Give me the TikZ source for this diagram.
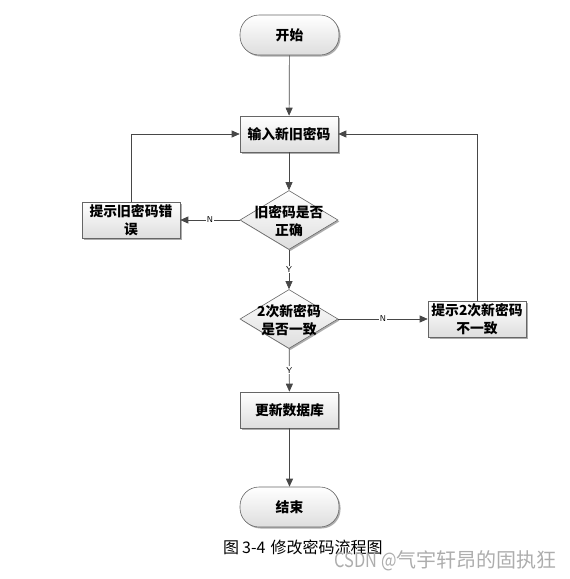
\documentclass[tikz,border=0pt]{standalone}
\usepackage{fontspec}
\usepackage{graphicx}
\newfontfamily\cjk{Noto Sans CJK SC}
\usetikzlibrary{shapes.geometric,shadows,arrows.meta}
\begin{document}
\begin{tikzpicture}[x=1pt,y=-1pt,
  base/.style={draw=black!60, line width=0.6pt, top color=white, bottom color=black!13,
    drop shadow={shadow xshift=1.5pt,shadow yshift=-1.5pt,fill=black!40,opacity=0.8},
    inner sep=0pt, align=center, font=\cjk\bfseries\fontsize{13.8}{18}\selectfont},
  box/.style={base, rectangle, minimum width=98pt, minimum height=36pt},
  term/.style={base, rectangle, rounded corners=19pt, minimum width=99pt, minimum height=40pt},
  dia/.style={base, diamond, aspect=1.63, minimum width=98pt, minimum height=59pt},
  txt/.style={inner sep=0pt, align=center, font=\cjk\bfseries\fontsize{13.8}{18}\selectfont},
  arr/.style={draw=black!72, line width=0.7pt, -{Triangle[length=8pt,width=7pt]}},
  lab/.style={font=\sffamily\fontsize{8.5}{9}\selectfont, fill=white, inner sep=1pt}
]
\useasboundingbox (0,0) rectangle (570,579);

\node[term] (start) at (289.5,35) {开始};
\node[box] (inp) at (289,134) {输入新旧密码};
\node[dia] (d1) at (289,220) {};
\node[txt] (d1t) at (289,221) {旧密码是否\\正确};
\node[box] (err) at (131,220) {提示旧密码错\\误};
\node[dia] (d2) at (289,319) {};
\node[txt] (d2t) at (289,320) {2次新密码\\是否一致};
\node[box] (mis) at (477,319) {提示2次新密码\\不一致};
\node[box] (upd) at (289.5,410) {更新数据库};
\node[term] (end) at (289.5,507) {结束};

\draw[arr] (start) -- (inp);
\draw[arr] (inp) -- (d1);
\draw[arr] (d1) -- node[lab]{Y} (d2);
\draw[arr] (d1.west) -- node[lab]{N} (err.east);
\draw[arr] (err.north) |- (inp.west);
\draw[arr] (d2.east) -- node[lab]{N} (mis.west);
\draw[arr] (mis.north) |- (inp.east);
\draw[arr] (d2) -- node[lab]{Y} (upd);
\draw[arr] (upd) -- (end);

\node[font=\cjk\fontsize{16}{18}\selectfont, inner sep=0pt, anchor=west] (cap) at (223,547) {图\hspace{3pt}3-4\hspace{5pt}修改密码流程图};
\node[font=\cjk\fontsize{20}{22}\selectfont, text=black!32, inner sep=0pt, anchor=east] (wm) at (557,561) {\scalebox{0.82}[1]{CSDN @}气宇轩昂的固执狂};
\end{tikzpicture}
\end{document}
